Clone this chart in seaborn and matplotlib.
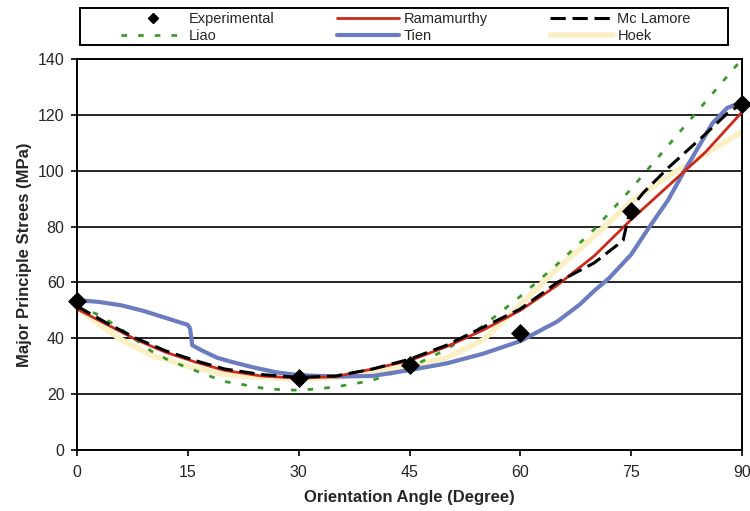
import matplotlib
matplotlib.use("Agg")
import matplotlib.pyplot as plt
import seaborn as sns
from matplotlib.lines import Line2D
from matplotlib.patches import Rectangle

# Measured peak strength against foliation orientation
exp_angle = [0, 30, 45, 60, 75, 90]
exp_stress = [53.5, 25.7, 30.4, 42.0, 85.6, 124.0]

# Ramamurthy criterion
ram_angle = [0, 4, 8, 12, 16, 20, 25, 30, 35, 40, 45, 50, 55, 60, 65, 70, 75, 80, 85, 90]
ram_stress = [50.5, 45.0, 39.5, 35.0, 31.5, 28.5, 26.5, 25.7, 26.3, 29.0, 32.0, 37.0, 43.0, 50.0,
              59.0, 69.5, 82.5, 94.5, 106.5, 121.0]

# Mc Lamore criterion
mcl_angle = [0, 4, 8, 12, 16, 20, 25, 30, 35, 40, 45, 50, 55, 60, 65, 70, 73.9, 74.6, 75.1, 76.6,
             80, 85, 88, 90]
mcl_stress = [51.5, 45.5, 40.0, 35.5, 32.0, 29.0, 27.0, 26.0, 26.5, 29.0, 32.5, 37.5, 44.0, 50.5,
              60.0, 67.0, 75.0, 83.0, 87.0, 92.0, 101.0, 113.0, 120.5, 124.0]

# Liao criterion
liao_angle = [0, 2.5, 5, 7.5, 10, 12.5, 15, 17.5, 20, 22.5, 25, 27.5, 30, 32.5, 35, 37.5, 40, 45,
              50, 55, 60, 65, 70, 75, 80, 85, 90]
liao_stress = [51.0, 48.9, 45.0, 40.3, 35.5, 32.0, 29.5, 26.9, 24.5, 23.4, 22.2, 21.6, 21.4, 21.9,
               22.6, 23.7, 25.0, 29.5, 36.0, 44.5, 55.0, 66.5, 79.0, 93.5, 109.0, 124.5, 140.0]

# Tien criterion
tien_angle = [0, 3, 6, 9, 12, 15, 15.3, 15.6, 17, 19, 21, 24, 27, 30, 35, 40, 45, 50, 55, 60, 65,
              68, 70, 72, 75, 77.5, 80, 82, 84, 86, 88, 90]
tien_stress = [53.7, 53.0, 51.8, 49.8, 47.3, 44.8, 43.5, 37.5, 35.5, 33.0, 31.5, 29.5, 27.8, 26.8,
               26.3, 26.5, 28.6, 31.0, 34.5, 39.0, 46.0, 52.0, 57.0, 61.5, 70.0, 80.0, 89.5, 99.0,
               108.0, 117.0, 122.5, 124.5]

# Hoek criterion
hoek_angle = [0, 3, 6, 10, 15, 20, 25, 30, 35, 40, 45, 50, 55, 60, 65, 70, 75, 80, 85, 90]
hoek_stress = [51.0, 45.0, 39.5, 34.0, 30.0, 27.0, 26.0, 25.5, 26.0, 27.5, 30.0, 33.0, 39.5, 52.0,
               65.0, 76.5, 89.0, 98.0, 106.0, 114.0]

x_ticks = [0, 15, 30, 45, 60, 75, 90]
y_ticks = [0, 20, 40, 60, 80, 100, 120, 140]

sns.set_theme(style="white")
plt.rcParams["font.family"] = ["Liberation Sans", "DejaVu Sans"]

fig = plt.figure(figsize=(7.5, 5.11), dpi=100)
ax = fig.add_axes([77 / 750, 1 - 450 / 511, 665 / 750, 391 / 511])

c_red = "#cc2a1c"
c_blue = "#6b7dc0"
c_green = "#3c9a2c"
c_hoek = "#fbefc4"
mcl_dash = (0, (5, 2.2))
liao_dot = (0, (2, 4))

sns.lineplot(x=hoek_angle, y=hoek_stress, ax=ax, color=c_hoek, lw=4.0, zorder=2)
sns.lineplot(x=liao_angle, y=liao_stress, ax=ax, color=c_green, lw=2.0, zorder=3,
             linestyle=liao_dot)
sns.lineplot(x=tien_angle, y=tien_stress, ax=ax, color=c_blue, lw=3.0, zorder=3)
sns.lineplot(x=ram_angle, y=ram_stress, ax=ax, color=c_red, lw=2.0, zorder=4)
sns.lineplot(x=mcl_angle, y=mcl_stress, ax=ax, color="black", lw=2.2, zorder=5,
             linestyle=mcl_dash)
sns.scatterplot(x=exp_angle, y=exp_stress, ax=ax, marker="D", s=80, color="black",
                edgecolor="black", zorder=6, clip_on=False)

ax.set_xlim(0, 90)
ax.set_ylim(0, 140)
ax.set_xticks(x_ticks)
ax.set_yticks(y_ticks)
ax.set_xticklabels([str(v) for v in x_ticks], fontsize=11.5)
ax.set_yticklabels([str(v) for v in y_ticks], fontsize=11.5)
ax.tick_params(axis="both", direction="out", length=4, width=1.2, color="black",
               left=True, bottom=True, pad=5)
ax.tick_params(axis="x", pad=7)
ax.yaxis.grid(True, color="black", lw=1.2)
ax.xaxis.grid(False)
ax.set_axisbelow(True)
for side in ["left", "right", "bottom", "top"]:
    ax.spines[side].set_visible(True)
    ax.spines[side].set_color("black")
    ax.spines[side].set_linewidth(1.4)

ax.set_xlabel("Orientation Angle (Degree)", fontsize=12, fontweight="bold", labelpad=7)
ax.set_ylabel("Major Principle Strees (MPa)", fontsize=12, fontweight="bold", labelpad=4)

handles = [
    Line2D([], [], color="black", marker="D", markersize=5, linestyle="none"),
    Line2D([], [], color=c_green, lw=2.0, linestyle=liao_dot),
    Line2D([], [], color=c_red, lw=2.0),
    Line2D([], [], color=c_blue, lw=3.0),
    Line2D([], [], color="black", lw=2.2, linestyle=mcl_dash),
    Line2D([], [], color=c_hoek, lw=4.0),
]
labels = ["Experimental", "Liao", "Ramamurthy", "Tien", "Mc Lamore", "Hoek"]
leg = fig.legend(handles, labels, ncol=3, mode="expand",
                 bbox_to_anchor=(117 / 750, 1 - 47 / 511, 578 / 750, 36 / 511),
                 loc="lower left", borderaxespad=0, fontsize=10.5, frameon=False,
                 handlelength=4.3, handletextpad=0.3, labelspacing=0.15, borderpad=0.3)

# Box drawn around the legend entries
fig.patches.append(Rectangle((80 / 750, 1 - 45 / 511), 648 / 750, 37 / 511,
                             transform=fig.transFigure, fill=False, edgecolor="black",
                             lw=1.4, zorder=0))

fig.savefig("out.png", dpi=100)
